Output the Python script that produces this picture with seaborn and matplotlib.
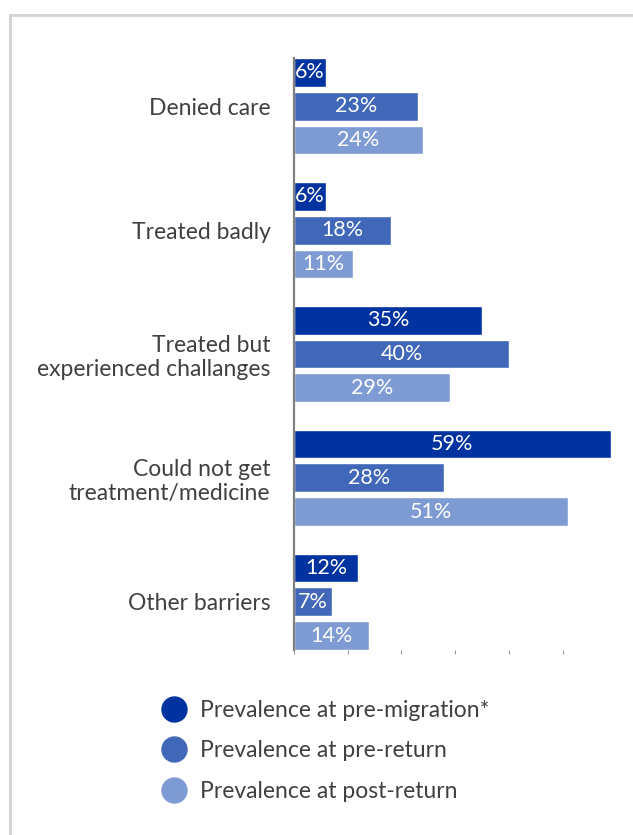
import matplotlib
matplotlib.use("Agg")
import matplotlib.pyplot as plt
from matplotlib.lines import Line2D
from matplotlib.patches import Rectangle
import pandas as pd
import seaborn as sns

# Barriers to care, by migration phase (percent of respondents)
categories = [
    "Denied care",
    "Treated badly",
    "Treated but\nexperienced challanges",
    "Could not get\ntreatment/medicine",
    "Other barriers",
]
phases = [
    "Prevalence at pre-migration*",
    "Prevalence at pre-return",
    "Prevalence at post-return",
]
pre_migration = [6, 6, 35, 59, 12]
pre_return = [23, 18, 40, 28, 7]
post_return = [24, 11, 29, 51, 14]
colors = ["#0033A0", "#4167B8", "#7F9BD3"]

text_color = "#404040"

sns.set_theme(style="white")
plt.rcParams["font.family"] = ["Lato", "DejaVu Sans"]

rows = []
for phase, values in zip(phases, [pre_migration, pre_return, post_return]):
    for cat, v in zip(categories, values):
        rows.append({"category": cat, "phase": phase, "value": v})
df = pd.DataFrame(rows)

fig = plt.figure(figsize=(6.33, 8.35), dpi=100)
W, H = 633, 835
ax_left, ax_top, ax_bottom = 294, 58, 650
xmax = 59.5
px_per_unit = 5.37
ax = fig.add_axes([ax_left / W, 1 - ax_bottom / H,
                   xmax * px_per_unit / W, (ax_bottom - ax_top) / H])

sns.barplot(data=df, y="category", x="value", hue="phase", orient="h",
            order=categories, hue_order=phases, palette=colors,
            width=0.82, gap=0.15, saturation=1, legend=False, ax=ax)

for container in ax.containers:
    vals = [bar.get_width() for bar in container]
    ax.bar_label(container, labels=[f"{v:.0f}%" for v in vals],
                 label_type="center", color="white", fontsize=15.5)

ax.set_xlim(0, xmax)
ax.set_ylim(4.3895, -0.3895)
ax.set_xlabel("")
ax.set_ylabel("")
ax.set_xticks([0, 10, 20, 30, 40, 50])
ax.set_xticklabels([])
ax.tick_params(axis="x", bottom=True, length=3, width=0.8, color="#9a9a9a",
               direction="out", pad=0)
ax.tick_params(axis="y", left=False, length=0, pad=17,
               labelsize=16.5, labelcolor=text_color)
for lbl in ax.get_yticklabels():
    lbl.set_linespacing(1.2)
    lbl.set_horizontalalignment("right")
for side in ["top", "right", "bottom"]:
    ax.spines[side].set_visible(False)
ax.spines["left"].set_color("#808080")
ax.spines["left"].set_linewidth(1.6)
ax.patch.set_alpha(0)

# Legend with round markers
handles = [Line2D([0], [0], marker="o", linestyle="none", markersize=18,
                  markerfacecolor=c, markeredgecolor=c) for c in colors]
fig.legend(handles, phases, loc="upper left",
           bbox_to_anchor=(163 / W, 1 - 700 / H), frameon=False,
           fontsize=16.5, labelcolor=text_color, handlelength=1.0,
           handletextpad=0.62, labelspacing=0.85, borderpad=0,
           borderaxespad=0)

# Light frame around the chart panel
fig.patches.append(Rectangle((10 / W, -0.1), 1.2, 1 - 15 / H + 0.1,
                             transform=fig.transFigure, fill=False,
                             edgecolor="#d2d2d2", linewidth=2))

fig.savefig("out.png", dpi=100)
